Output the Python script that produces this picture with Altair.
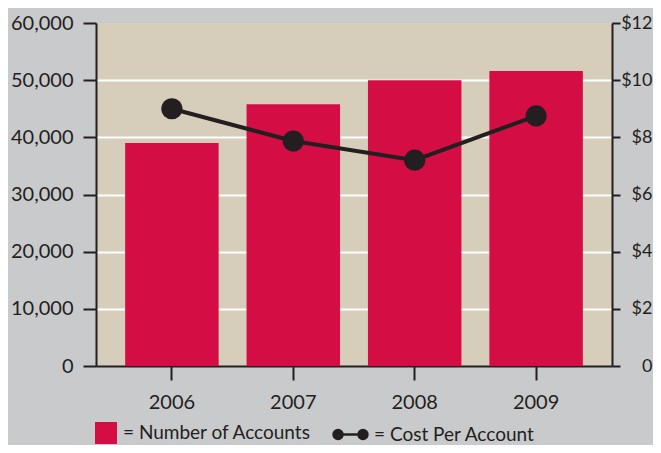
import altair as alt
import pandas as pd

years = ["2006", "2007", "2008", "2009"]
accounts = [39000, 45800, 50000, 51600]
cost = [9.0, 7.87, 7.2, 8.75]
left_ticks = [0, 10000, 20000, 30000, 40000, 50000, 60000]
right_ticks = [0, 2, 4, 6, 8, 10, 12]
bar_label = "Number of Accounts"
line_label = "Cost Per Account"

df = pd.DataFrame({"year": years, "accounts": accounts, "cost": cost})
df["s1"] = bar_label
df["s2"] = line_label

DARK = "#231f20"
RED = "#d40e45"
BEIGE = "#d6cdbb"
GRAY = "#c9cacc"
FONT = "Lato"
FS = 20

x = alt.X(
    "year:N",
    scale=alt.Scale(paddingInner=0.23, paddingOuter=0.24),
    axis=alt.Axis(
        title=None, labelAngle=0, domainColor=DARK, domainWidth=2,
        tickColor=DARK, tickWidth=2, tickSize=14, labelPadding=12,
        labelFontSize=FS, labelColor=DARK, labelFont=FONT, grid=False,
    ),
)

bars = alt.Chart(df).mark_bar(opacity=1).encode(
    x=x,
    y=alt.Y(
        "accounts:Q",
        scale=alt.Scale(domain=[0, 60000], nice=False),
        axis=alt.Axis(
            title=None, orient="left", values=left_ticks,
            labelExpr="format(datum.value, ',')",
            domainColor=DARK, domainWidth=2, tickColor=DARK, tickWidth=2,
            tickSize=13, labelPadding=10, labelFontSize=FS, labelColor=DARK,
            labelFont=FONT, grid=True,
            gridColor={"condition": {"test": "datum.value === 60000 || datum.value === 0",
                                     "value": "transparent"}, "value": "white"},
            gridWidth=2, gridOpacity=1,
        ),
    ),
    color=alt.Color(
        "s1:N",
        scale=alt.Scale(domain=[bar_label], range=[RED]),
        legend=alt.Legend(
            orient="none", legendX=-1, legendY=399, title=None,
            symbolType="square", symbolSize=484, symbolStrokeWidth=0,
            symbolOpacity=1, labelFontSize=19, labelFont=FONT,
            labelColor=DARK, labelExpr="'= ' + datum.label", labelOffset=6,
            padding=0, labelLimit=400,
        ),
    ),
)

LINE_SYMBOL = ("M-0.78,0L0.78,0"
               "M-1.06,0A0.28,0.28 0 1,0 -0.5,0A0.28,0.28 0 1,0 -1.06,0"
               "M0.5,0A0.28,0.28 0 1,0 1.06,0A0.28,0.28 0 1,0 0.5,0Z")

y2 = alt.Y(
    "cost:Q",
    scale=alt.Scale(domain=[0, 12], nice=False),
    axis=alt.Axis(
        title=None, orient="right", values=right_ticks,
        labelExpr="datum.value == 0 ? '0' : '$' + datum.value",
        domainColor=DARK, domainWidth=2, tickColor=DARK, tickWidth=2,
        tickSize=8, labelPadding=32, labelAlign="right", labelFontSize=18,
        labelColor=DARK, labelFont=FONT, grid=False,
    ),
)

line = alt.Chart(df).mark_line(strokeWidth=4).encode(
    x=x,
    y=y2,
    stroke=alt.Stroke(
        "s2:N",
        scale=alt.Scale(domain=[line_label], range=[DARK]),
        legend=alt.Legend(
            orient="none", legendX=237, legendY=394, title=None,
            symbolType=LINE_SYMBOL, symbolSize=1024, symbolStrokeWidth=2.5,
            symbolFillColor=DARK, symbolOpacity=1, labelFontSize=19,
            labelFont=FONT, labelColor=DARK,
            labelExpr="'= ' + datum.label", labelOffset=6, padding=0,
            labelLimit=400,
        ),
    ),
)

points = alt.Chart(df).mark_circle(size=450, opacity=1, color=DARK).encode(
    x=x,
    y=y2,
)

chart = alt.layer(bars, alt.layer(line, points)).resolve_scale(
    y="independent"
).properties(
    width=516,
    height=343,
    padding={"left": 88, "top": 15, "right": 41, "bottom": 79},
    autosize=alt.AutoSizeParams(type="none"),
    background=GRAY,
).configure_view(fill=BEIGE, stroke=None)

chart.save("out.html", embed_options={"renderer": "svg", "actions": False})
